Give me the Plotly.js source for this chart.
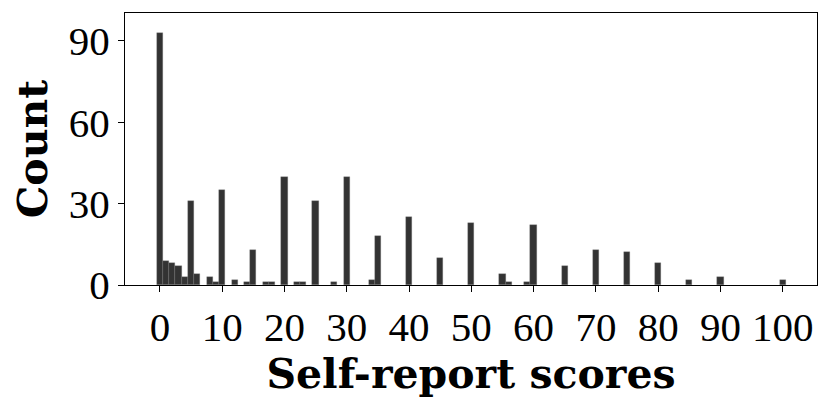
<!DOCTYPE html>
<html>
<head>
<meta charset="utf-8">
<script src="https://cdn.plot.ly/plotly-3.0.1.min.js"></script>
<style>
  html, body { margin: 0; padding: 0; background: #fff; }
  #myChart { width: 831px; height: 409px; }
</style>
</head>
<body>
<div id="myChart"></div>
<script>
// histogram bins (score) and their counts, empty bins left out
var scores = [0, 1, 2, 3, 4, 5, 6, 8, 9, 10, 12, 14, 15, 17, 18, 20, 22, 23, 25, 28,
  30, 34, 35, 40, 45, 50, 55, 56, 59, 60, 65, 70, 75, 80, 85, 90, 100];
var counts = [93, 9, 8, 7, 3, 31, 4, 3, 1, 35, 2, 1, 13, 1, 1, 40, 1, 1, 31, 1,
  40, 2, 18, 25, 10, 23, 4, 1, 1, 22, 7, 13, 12, 8, 2, 3, 2];
var xTicks = [0, 10, 20, 30, 40, 50, 60, 70, 80, 90, 100];
var yTicks = [0, 30, 60, 90];

var serif = "Liberation Serif, DejaVu Serif, serif";
var titleSerif = "DejaVu Serif, Liberation Serif, serif";

var data = [
  {
    type: "bar",
    x: scores,
    y: counts,
    width: 1,
    marker: {
      color: "#333333",
      line: { color: "rgba(120,120,120,0.6)", width: 0.5 },
    },
    hoverinfo: "x+y",
  },
];

var layout = {
  width: 831,
  height: 409,
  margin: { l: 125, r: 14, t: 13, b: 124 },
  paper_bgcolor: "#fff",
  plot_bgcolor: "#fff",
  showlegend: false,
  bargap: 0,
  font: { family: serif, color: "#000", size: 40 },
  xaxis: {
    range: [-5.6, 105.5],
    tickvals: xTicks,
    ticktext: xTicks.map(String),
    ticks: "outside",
    ticklen: 6,
    tickwidth: 1.3,
    tickcolor: "#000",
    showgrid: false,
    zeroline: false,
    showline: true,
    linecolor: "#000",
    linewidth: 1.3,
    mirror: true,
    tickfont: { family: serif, size: 41 },
    title: {
      text: "<b>Self-report scores</b>",
      font: { family: titleSerif, size: 41 },
      standoff: 8,
    },
  },
  yaxis: {
    range: [0, 100.3],
    tickvals: yTicks,
    ticktext: yTicks.map(String),
    ticks: "outside",
    ticklen: 6,
    tickwidth: 1.3,
    tickcolor: "#000",
    showgrid: false,
    zeroline: false,
    showline: true,
    linecolor: "#000",
    linewidth: 1.3,
    mirror: true,
    tickfont: { family: serif, size: 41 },
    title: {
      text: "<b>Count</b>",
      font: { family: titleSerif, size: 41 },
      standoff: 8,
    },
  },
};

const config = { displayModeBar: false, responsive: false };
Plotly.newPlot("myChart", data, layout, config);
</script>
</body>
</html>
